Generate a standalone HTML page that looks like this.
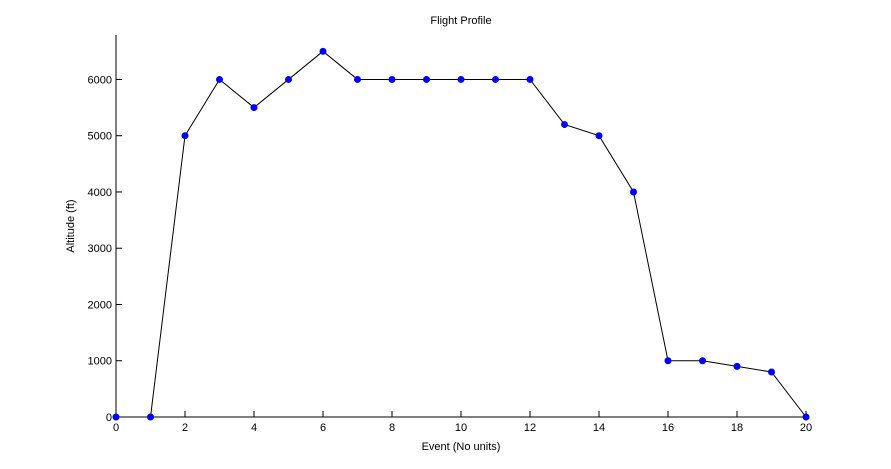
<!DOCTYPE html>
<html><head><meta charset="utf-8"><style>
html,body{margin:0;padding:0;background:#fff;}
svg{display:block;font-family:"Liberation Sans",sans-serif;}
</style></head><body>
<svg id="chart" width="891" height="469" viewBox="0 0 891 469">
<rect width="891" height="469" fill="#fff"/>
<text x="461" y="24" font-size="11" text-anchor="middle">Flight Profile</text>
<text x="461" y="450" font-size="11" text-anchor="middle">Event (No units)</text>
<text x="0" y="0" font-size="11" text-anchor="middle" transform="translate(74,226) rotate(-90)">Altitude (ft)</text>
<g id="axes"></g>
<g id="marks"></g>
</svg>
<script>
const events = [0,1,2,3,4,5,6,7,8,9,10,11,12,13,14,15,16,17,18,19,20];
const altitudes = [0,0,5000,6000,5500,6000,6500,6000,6000,6000,6000,6000,6000,5200,5000,4000,1000,1000,900,800,0];
const xTicks = [0,2,4,6,8,10,12,14,16,18,20];
const yTicks = [0,1000,2000,3000,4000,5000,6000];

const NS = "http://www.w3.org/2000/svg";
const x0 = 116, x1 = 806, y0 = 417, yTop = 35;
const xMin = 0, xMax = 20, yMin = 0, yMax = 6790;
const xs = v => x0 + (v - xMin) / (xMax - xMin) * (x1 - x0);
const ys = v => y0 - (v - yMin) / (yMax - yMin) * (y0 - yTop);
function mk(tag, attrs, parent) {
  const e = document.createElementNS(NS, tag);
  for (const k in attrs) e.setAttribute(k, attrs[k]);
  parent.appendChild(e);
  return e;
}
const axes = document.getElementById('axes');
const marks = document.getElementById('marks');
let e = mk('line', {x1: x0, y1: y0, x2: x1, y2: y0, stroke: '#000', 'stroke-width': 1}, axes);


e = mk('line', {x1: x0, y1: y0, x2: x0, y2: yTop, stroke: '#000', 'stroke-width': 1}, axes);


xTicks.forEach(t => {
  const x = xs(t);
  let l = mk('line', {x1: x, y1: y0, x2: x, y2: y0 - 6, stroke: '#000'}, axes);
  
  
  let tx = mk('text', {x: x, y: y0 + 14, 'font-size': 11, 'text-anchor': 'middle'}, axes);
  tx.textContent = t;
  
  
});
yTicks.forEach(t => {
  const y = ys(t);
  let l = mk('line', {x1: x0, y1: y, x2: x0 + 6, y2: y, stroke: '#000'}, axes);
  
  
  let tx = mk('text', {x: x0 - 4, y: y + 4, 'font-size': 11, 'text-anchor': 'end'}, axes);
  tx.textContent = t;
  
  
});
const pts = events.map((v, i) => xs(v) + ',' + ys(altitudes[i])).join(' ');
const pl = mk('polyline', {points: pts, fill: 'none', stroke: '#000', 'stroke-width': 1}, marks);


events.forEach((v, i) => {
  const c = mk('circle', {cx: xs(v), cy: ys(altitudes[i]), r: 3.5, fill: '#0000ff'}, marks);
  
  
});
</script>
</body></html>
